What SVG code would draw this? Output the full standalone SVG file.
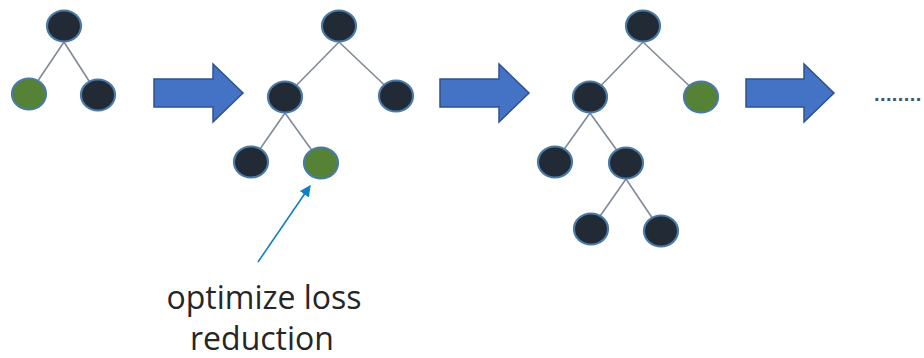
<svg xmlns="http://www.w3.org/2000/svg" width="924" height="358" viewBox="0 0 924 358">
  <defs>
    <style>
      .edge { stroke: #7F8A99; stroke-width: 1.6; fill: none; }
      .node { stroke: #4A7AA8; stroke-width: 2.2; }
      .dark { fill: #222A35; }
      .leaf { fill: #548235; }
      .step { fill: #4472C4; stroke: #2F528F; stroke-width: 1.5; stroke-linejoin: miter; }
      .callout { stroke: #0F7FC6; stroke-width: 1.6; fill: none; }
      .label { font-family: "Open Sans", "Liberation Sans", sans-serif; font-size: 32px; fill: #262626; text-anchor: middle; }
      .more { font-family: "Liberation Sans", sans-serif; font-size: 20px; fill: #44546A; font-weight: bold; }
    </style>
    <marker id="callHead" viewBox="0 0 10 10" refX="9" refY="5" markerWidth="7" markerHeight="7" orient="auto" markerUnits="strokeWidth">
      <path d="M0,0 L10,5 L0,10 Z" fill="#0F7FC6"/>
    </marker>
    <filter id="soft" x="-20%" y="-20%" width="140%" height="140%">
      <feGaussianBlur stdDeviation="0.5"/>
    </filter>
  </defs>

  <!-- tree connectors -->
  <g id="connectors">
    <line class="edge" x1="64" y1="42" x2="29" y2="94"/>
    <line class="edge" x1="64" y1="42" x2="98" y2="95"/>

    <line class="edge" x1="339" y1="42" x2="285" y2="97"/>
    <line class="edge" x1="339" y1="42" x2="396" y2="96"/>
    <line class="edge" x1="285" y1="113" x2="251" y2="162"/>
    <line class="edge" x1="285" y1="113" x2="321" y2="163"/>

    <line class="edge" x1="643" y1="42" x2="590" y2="97"/>
    <line class="edge" x1="643" y1="42" x2="701" y2="97"/>
    <line class="edge" x1="590" y1="113" x2="555" y2="162"/>
    <line class="edge" x1="590" y1="113" x2="626" y2="163"/>
    <line class="edge" x1="626" y1="179" x2="591" y2="229"/>
    <line class="edge" x1="626" y1="179" x2="661" y2="231"/>

    <line class="callout" x1="258" y1="262" x2="310" y2="186" marker-end="url(#callHead)"/>
  </g>

  <!-- first tree -->
  <g id="t1-root"><ellipse class="node dark" cx="64" cy="26" rx="17" ry="15.5" filter="url(#soft)"/></g>
  <g id="t1-left"><ellipse class="node leaf" cx="29" cy="94" rx="17" ry="15.5" filter="url(#soft)"/></g>
  <g id="t1-right"><ellipse class="node dark" cx="98" cy="95" rx="17" ry="15.5" filter="url(#soft)"/></g>

  <!-- second tree -->
  <g id="t2-root"><ellipse class="node dark" cx="339" cy="26" rx="17" ry="15.5" filter="url(#soft)"/></g>
  <g id="t2-left"><ellipse class="node dark" cx="285" cy="97" rx="17" ry="15.5" filter="url(#soft)"/></g>
  <g id="t2-right"><ellipse class="node dark" cx="396" cy="96" rx="17" ry="15.5" filter="url(#soft)"/></g>
  <g id="t2-left-left"><ellipse class="node dark" cx="251" cy="162" rx="17" ry="15.5" filter="url(#soft)"/></g>
  <g id="t2-left-right"><ellipse class="node leaf" cx="321" cy="163" rx="17" ry="15.5" filter="url(#soft)"/></g>

  <!-- third tree -->
  <g id="t3-root"><ellipse class="node dark" cx="643" cy="26" rx="17" ry="15.5" filter="url(#soft)"/></g>
  <g id="t3-left"><ellipse class="node dark" cx="590" cy="97" rx="17" ry="15.5" filter="url(#soft)"/></g>
  <g id="t3-right"><ellipse class="node leaf" cx="701" cy="97" rx="17" ry="15.5" filter="url(#soft)"/></g>
  <g id="t3-left-left"><ellipse class="node dark" cx="555" cy="162" rx="17" ry="15.5" filter="url(#soft)"/></g>
  <g id="t3-left-right"><ellipse class="node dark" cx="626" cy="163" rx="17" ry="15.5" filter="url(#soft)"/></g>
  <g id="t3-lr-left"><ellipse class="node dark" cx="591" cy="229" rx="17" ry="15.5" filter="url(#soft)"/></g>
  <g id="t3-lr-right"><ellipse class="node dark" cx="661" cy="231" rx="17" ry="15.5" filter="url(#soft)"/></g>

  <!-- block arrows between steps -->
  <g id="step-1"><polygon class="step" points="154,79 213,79 213,64 243,93 213,122 213,107 154,107"/></g>
  <g id="step-2"><polygon class="step" points="440,79 499,79 499,64 529,93 499,122 499,107 440,107"/></g>
  <g id="step-3"><polygon class="step" points="746,79 804,79 804,64 834,93 804,122 804,107 746,107"/></g>

  <g id="ellipsis"><text class="more" x="874" y="101" letter-spacing="0.4">........</text></g>

  <g id="callout-label">
    <text class="label" x="264" y="309">optimize loss</text>
    <text class="label" x="262" y="350">reduction</text>
  </g>
</svg>
